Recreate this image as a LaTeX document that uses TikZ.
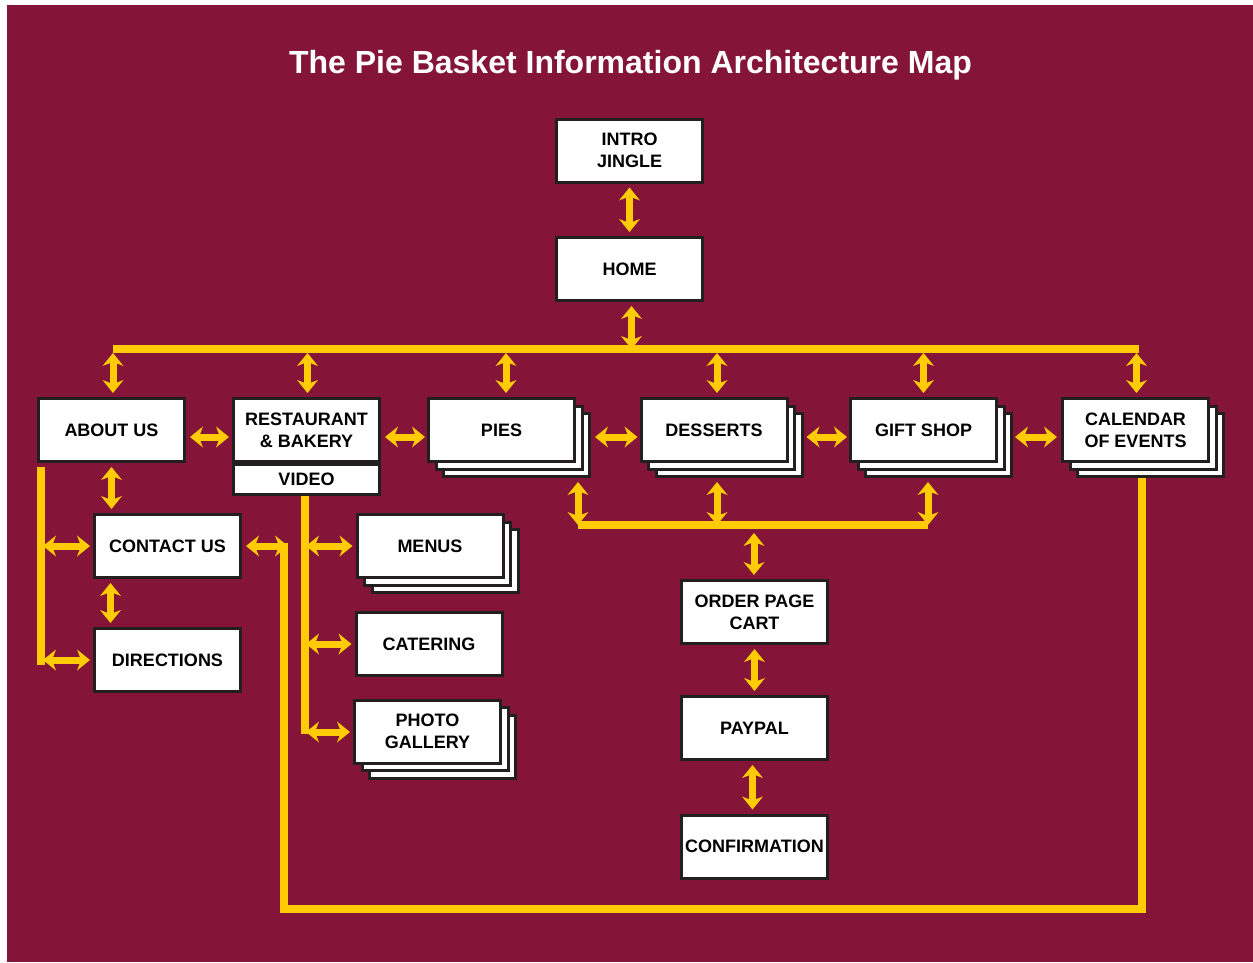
\documentclass[tikz,border=0pt]{standalone}
\usepackage{fontspec}
\setmainfont{Liberation Sans}
\usetikzlibrary{arrows.meta,shadows}
\definecolor{maroon}{RGB}{132,21,56}
\definecolor{gold}{RGB}{255,203,5}
\definecolor{boxline}{RGB}{35,31,32}
\newcommand\boxfont{\fontsize{18}{22}\selectfont\bfseries}
\begin{document}
\begin{tikzpicture}[x=1pt,y=-1pt,
  box/.style={draw=boxline, fill=white, line width=3pt, minimum width=146pt, minimum height=63pt,
    inner sep=0pt, align=center, font=\boxfont, text=black},
  stackbox/.style={box,
    copy shadow={shadow xshift=15pt, shadow yshift=-15pt, draw=boxline, fill=white, line width=3pt},
    copy shadow={shadow xshift=7.5pt, shadow yshift=-7.5pt, draw=boxline, fill=white, line width=3pt}},
  dar/.style={draw=gold, line width=7pt,
    {Stealth[length=13pt,width=21pt,inset=4pt,line width=0pt]}-{Stealth[length=13pt,width=21pt,inset=4pt,line width=0pt]},
    shorten <=4pt, shorten >=4pt},
  yline/.style={draw=gold, line width=7.5pt, line join=miter}]
\useasboundingbox (0,0) rectangle (1253,962);
\fill[white] (0,0) rectangle (1253,962);
\fill[maroon] (7,5) rectangle (1253,962);

\node[anchor=base, text=white, font=\fontsize{32}{36}\selectfont\bfseries] (title) at (630.5,73) {The Pie Basket Information Architecture Map};

% nodes
\node[box] (intro) at (629.5,150.5) {INTRO\\JINGLE};
\node[box] (home) at (629.5,269) {HOME};
\node[box] (about) at (111.5,430) {ABOUT US};
\node[box] (rest) at (306.5,430) {RESTAURANT\\\& BAKERY};
\node[box, minimum height=30pt] (video) at (306.5,479.5) {VIDEO};
\node[stackbox] (pies) at (501.5,430) {PIES};
\node[stackbox] (desserts) at (714,430) {DESSERTS};
\node[stackbox] (gift) at (923.5,430) {GIFT SHOP};
\node[stackbox] (cal) at (1135.5,430) {CALENDAR\\OF EVENTS};
\node[box] (contact) at (167.5,546) {CONTACT US};
\node[box] (directions) at (167.5,660) {DIRECTIONS};
\node[stackbox] (menus) at (430,546) {MENUS};
\node[box] (catering) at (429,644) {CATERING};
\node[stackbox] (photo) at (427.5,731.5) {PHOTO\\GALLERY};
\node[box] (order) at (754.5,612) {ORDER PAGE\\CART};
\node[box] (paypal) at (754.5,728) {PAYPAL};
\node[box] (confirm) at (754.5,846.5) {CONFIRMATION};

% coordinates
\coordinate (bar) at (632,349);
\coordinate (barL) at (113,349);
\coordinate (barR) at (1139,349);
\coordinate (bar2) at (754,525);
\coordinate (bar2L) at (578,525);
\coordinate (bar2R) at (928,525);
\coordinate (lt) at (41,467);
\coordinate (lb) at (41,665);
\coordinate (ct) at (284,543);
\coordinate (cb) at (284,909);
\coordinate (rb) at (1142,909);
\coordinate (rt) at (1142,478);
\coordinate (vt) at (305,496);
\coordinate (vb) at (305,734);

% yellow lines
\draw[yline] (barL) -- (barR);
\draw[yline] (bar2L) -- (bar2R);
\draw[yline] (lt) -- (lb);
\draw[yline] (ct) -- (cb) -- (rb) -- (rt);
\draw[yline] (vt) -- (vb);

% arrows top
\draw[dar] (intro) -- (home);
\draw[dar, shorten >=0pt] ([xshift=2pt]home.south) -- ([xshift=2pt]home.south |- bar);
\draw[dar] (barL) -- (barL |- about.north);
\draw[dar] ([xshift=1pt]rest.north |- bar) -- ([xshift=1pt]rest.north);
\draw[dar] ([xshift=4.5pt]pies.north |- bar) -- ([xshift=4.5pt]pies.north);
\draw[dar] ([xshift=3pt]desserts.north |- bar) -- ([xshift=3pt]desserts.north);
\draw[dar] (gift.north |- bar) -- (gift.north);
\draw[dar] ([xshift=-2.5pt]barR) -- ([xshift=-2.5pt]barR |- cal.north);

% horizontal arrows in top row
\draw[dar, shorten >=3pt] ([shift={(0,7)}]about.east) -- ([shift={(0,7)}]rest.west);
\draw[dar, shorten >=2pt] ([shift={(0,7)}]rest.east) -- ([shift={(0,7)}]pies.west);
\draw[dar, shorten <=19pt, shorten >=2pt] ([shift={(0,7)}]pies.east) -- ([shift={(0,7)}]desserts.west);
\draw[dar, shorten <=18pt, shorten >=2pt] ([shift={(0,7)}]desserts.east) -- ([shift={(0,7)}]gift.west);
\draw[dar, shorten <=17pt, shorten >=4pt] ([shift={(0,7)}]gift.east) -- ([shift={(0,7)}]cal.west);

% arrows to order bar
\draw[dar, shorten <=19pt, shorten >=0pt] (bar2L |- pies.south) -- (bar2L);
\draw[dar, shorten <=19pt, shorten >=0pt] ([xshift=3pt]desserts.south) -- ([xshift=3pt]desserts.south |- bar2);
\draw[dar, shorten <=19pt, shorten >=0pt] (bar2R |- gift.south) -- (bar2R);
\draw[dar, shorten <=8pt] (bar2) -- (bar2 |- order.north);
\draw[dar] (order) -- (paypal);
\draw[dar] ([xshift=-2pt]paypal.south) -- ([xshift=-2pt]confirm.north);

% left group
\draw[dar] (about) -- (about |- contact.north);
\draw[dar] ([xshift=-1pt]about |- contact.south) -- ([xshift=-1pt]about |- directions.north);
\draw[dar, shorten <=2pt, shorten >=3pt] (lt |- contact) -- (contact);
\draw[dar, shorten <=2pt, shorten >=3pt] (lt |- directions) -- (directions);
\draw[dar, shorten >=0pt] (contact) -- ([xshift=4pt]ct |- contact);

% video group
\draw[dar, shorten <=1pt, shorten >=3pt] (vt |- menus) -- (menus);
\draw[dar, shorten <=1pt, shorten >=3pt] (vt |- catering) -- (catering);
\draw[dar, shorten <=1pt, shorten >=3pt] ([shift={(0,-2)}]vb) -- ([shift={(0,-2)}]vb -| photo.west);
\end{tikzpicture}
\end{document}
